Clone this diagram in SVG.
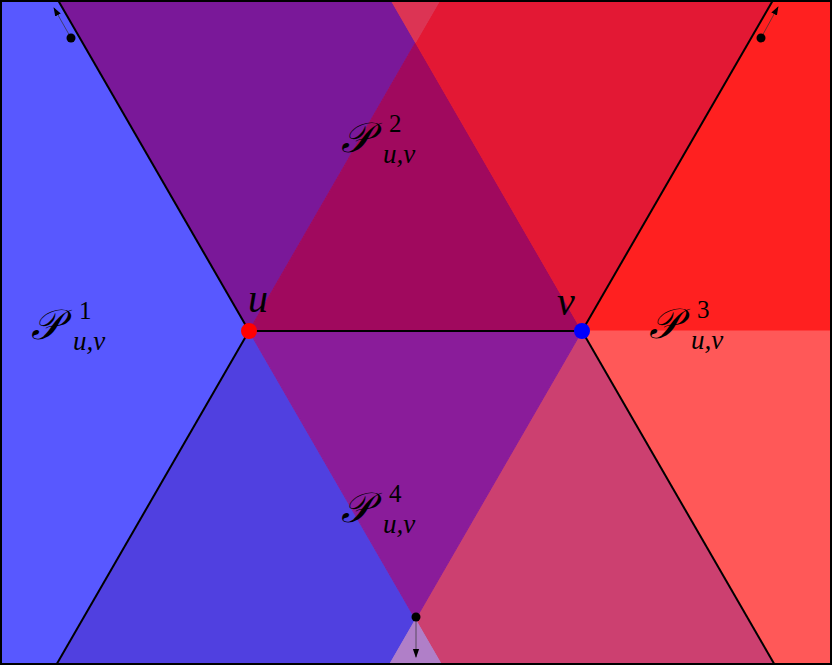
<svg xmlns="http://www.w3.org/2000/svg" width="832" height="665" viewBox="0 0 832 665">
  <style>
    .reg { stroke-width: 1; stroke-linejoin: round; }
    .edge { stroke: #000; stroke-width: 2; fill: none; }
    .dir { stroke: #333; stroke-width: 1; stroke-opacity: 0.7; fill: none; marker-end: url(#ah); }
    .lbl { font-family: "Liberation Serif", "DejaVu Serif", serif; font-style: italic; fill: #000; }
    .cal { font-family: "DejaVu Serif", "Liberation Serif", serif; font-style: italic; font-size: 42px; fill: #000; }
    .scr { font-family: "Liberation Serif", "DejaVu Serif", serif; font-size: 25px; fill: #000; }
    .scri { font-family: "Liberation Serif", "DejaVu Serif", serif; font-style: italic; font-size: 27px; fill: #000; }
  </style>
  <defs>
    <marker id="ah" viewBox="0 0 10 10" refX="9" refY="5" markerWidth="9" markerHeight="9" markerUnits="userSpaceOnUse" orient="auto">
      <path d="M0,1.5 L10,5 L0,8.5 Z" fill="#000"/>
    </marker>
  </defs>

  <g id="regions">
    <polygon class="reg" points="0,0 57.9,0 249,331 56.2,665 0,665" fill="#5858ff" stroke="#5858ff"/>
    <polygon class="reg" points="57.9,0 390.9,0 415.5,42.6 249,331" fill="#7a1899" stroke="#7a1899"/>
    <polygon class="reg" points="249,331 415.5,42.6 582,331" fill="#a0095e" stroke="#a0095e"/>
    <polygon class="reg" points="440.1,0 773.1,0 582,331 415.5,42.6" fill="#e31834" stroke="#e31834"/>
    <polygon class="reg" points="390.9,0 440.1,0 415.5,42.6" fill="#dc3454" stroke="#dc3454"/>
    <polygon class="reg" points="773.1,0 832,0 832,331 582,331" fill="#ff2020" stroke="#ff2020"/>
    <polygon class="reg" points="582,331 832,331 832,665 774.8,665" fill="#ff5858" stroke="#ff5858"/>
    <polygon class="reg" points="582,331 774.8,665 441.8,665 415.5,619.4" fill="#cc4070" stroke="#cc4070"/>
    <polygon class="reg" points="249,331 415.5,619.4 389.2,665 56.2,665" fill="#5040e0" stroke="#5040e0"/>
    <polygon class="reg" points="249,331 582,331 415.5,619.4" fill="#8a1c9a" stroke="#8a1c9a"/>
    <polygon class="reg" points="415.5,619.4 441.8,665 389.2,665" fill="#b07fc8" stroke="#b07fc8"/>
  </g>

  <g id="connectors">
    <line class="edge" x1="249" y1="331" x2="57.9" y2="0"/>
    <line class="edge" x1="249" y1="331" x2="56.2" y2="665"/>
    <line class="edge" x1="582" y1="331" x2="773.1" y2="0"/>
    <line class="edge" x1="582" y1="331" x2="774.8" y2="665"/>
    <line class="edge" x1="249" y1="331" x2="582" y2="331"/>
    <line class="dir" x1="71" y1="38" x2="54" y2="8"/>
    <line class="dir" x1="761" y1="38" x2="778" y2="7"/>
    <line class="dir" x1="416" y1="617" x2="416" y2="657"/>
  </g>

  <g id="markers">
    <circle cx="71" cy="38" r="4.5" fill="#000"/>
    <circle cx="761" cy="38" r="4.5" fill="#000"/>
    <circle cx="416" cy="617" r="4.5" fill="#000"/>
  </g>

  <g id="node-u">
    <circle cx="249" cy="331" r="8" fill="#ff0000"/>
    <text class="lbl" x="248" y="312" font-size="40">u</text>
  </g>
  <g id="node-v">
    <circle cx="582" cy="331" r="8" fill="#0000ff"/>
    <text class="lbl" x="557" y="315" font-size="40">v</text>
  </g>

  <g id="label-P1">
    <text class="cal" x="31" y="339">𝒫</text>
    <text class="scr" x="79" y="319">1</text>
    <text class="scri" x="73" y="350">u,v</text>
  </g>
  <g id="label-P2">
    <text class="cal" x="341" y="152">𝒫</text>
    <text class="scr" x="389" y="132">2</text>
    <text class="scri" x="383" y="163">u,v</text>
  </g>
  <g id="label-P3">
    <text class="cal" x="649" y="338">𝒫</text>
    <text class="scr" x="697" y="318">3</text>
    <text class="scri" x="691" y="349">u,v</text>
  </g>
  <g id="label-P4">
    <text class="cal" x="341" y="522">𝒫</text>
    <text class="scr" x="389" y="502">4</text>
    <text class="scri" x="383" y="533">u,v</text>
  </g>

  <rect x="1" y="1" width="830" height="663" fill="none" stroke="#000" stroke-width="2"/>
</svg>
